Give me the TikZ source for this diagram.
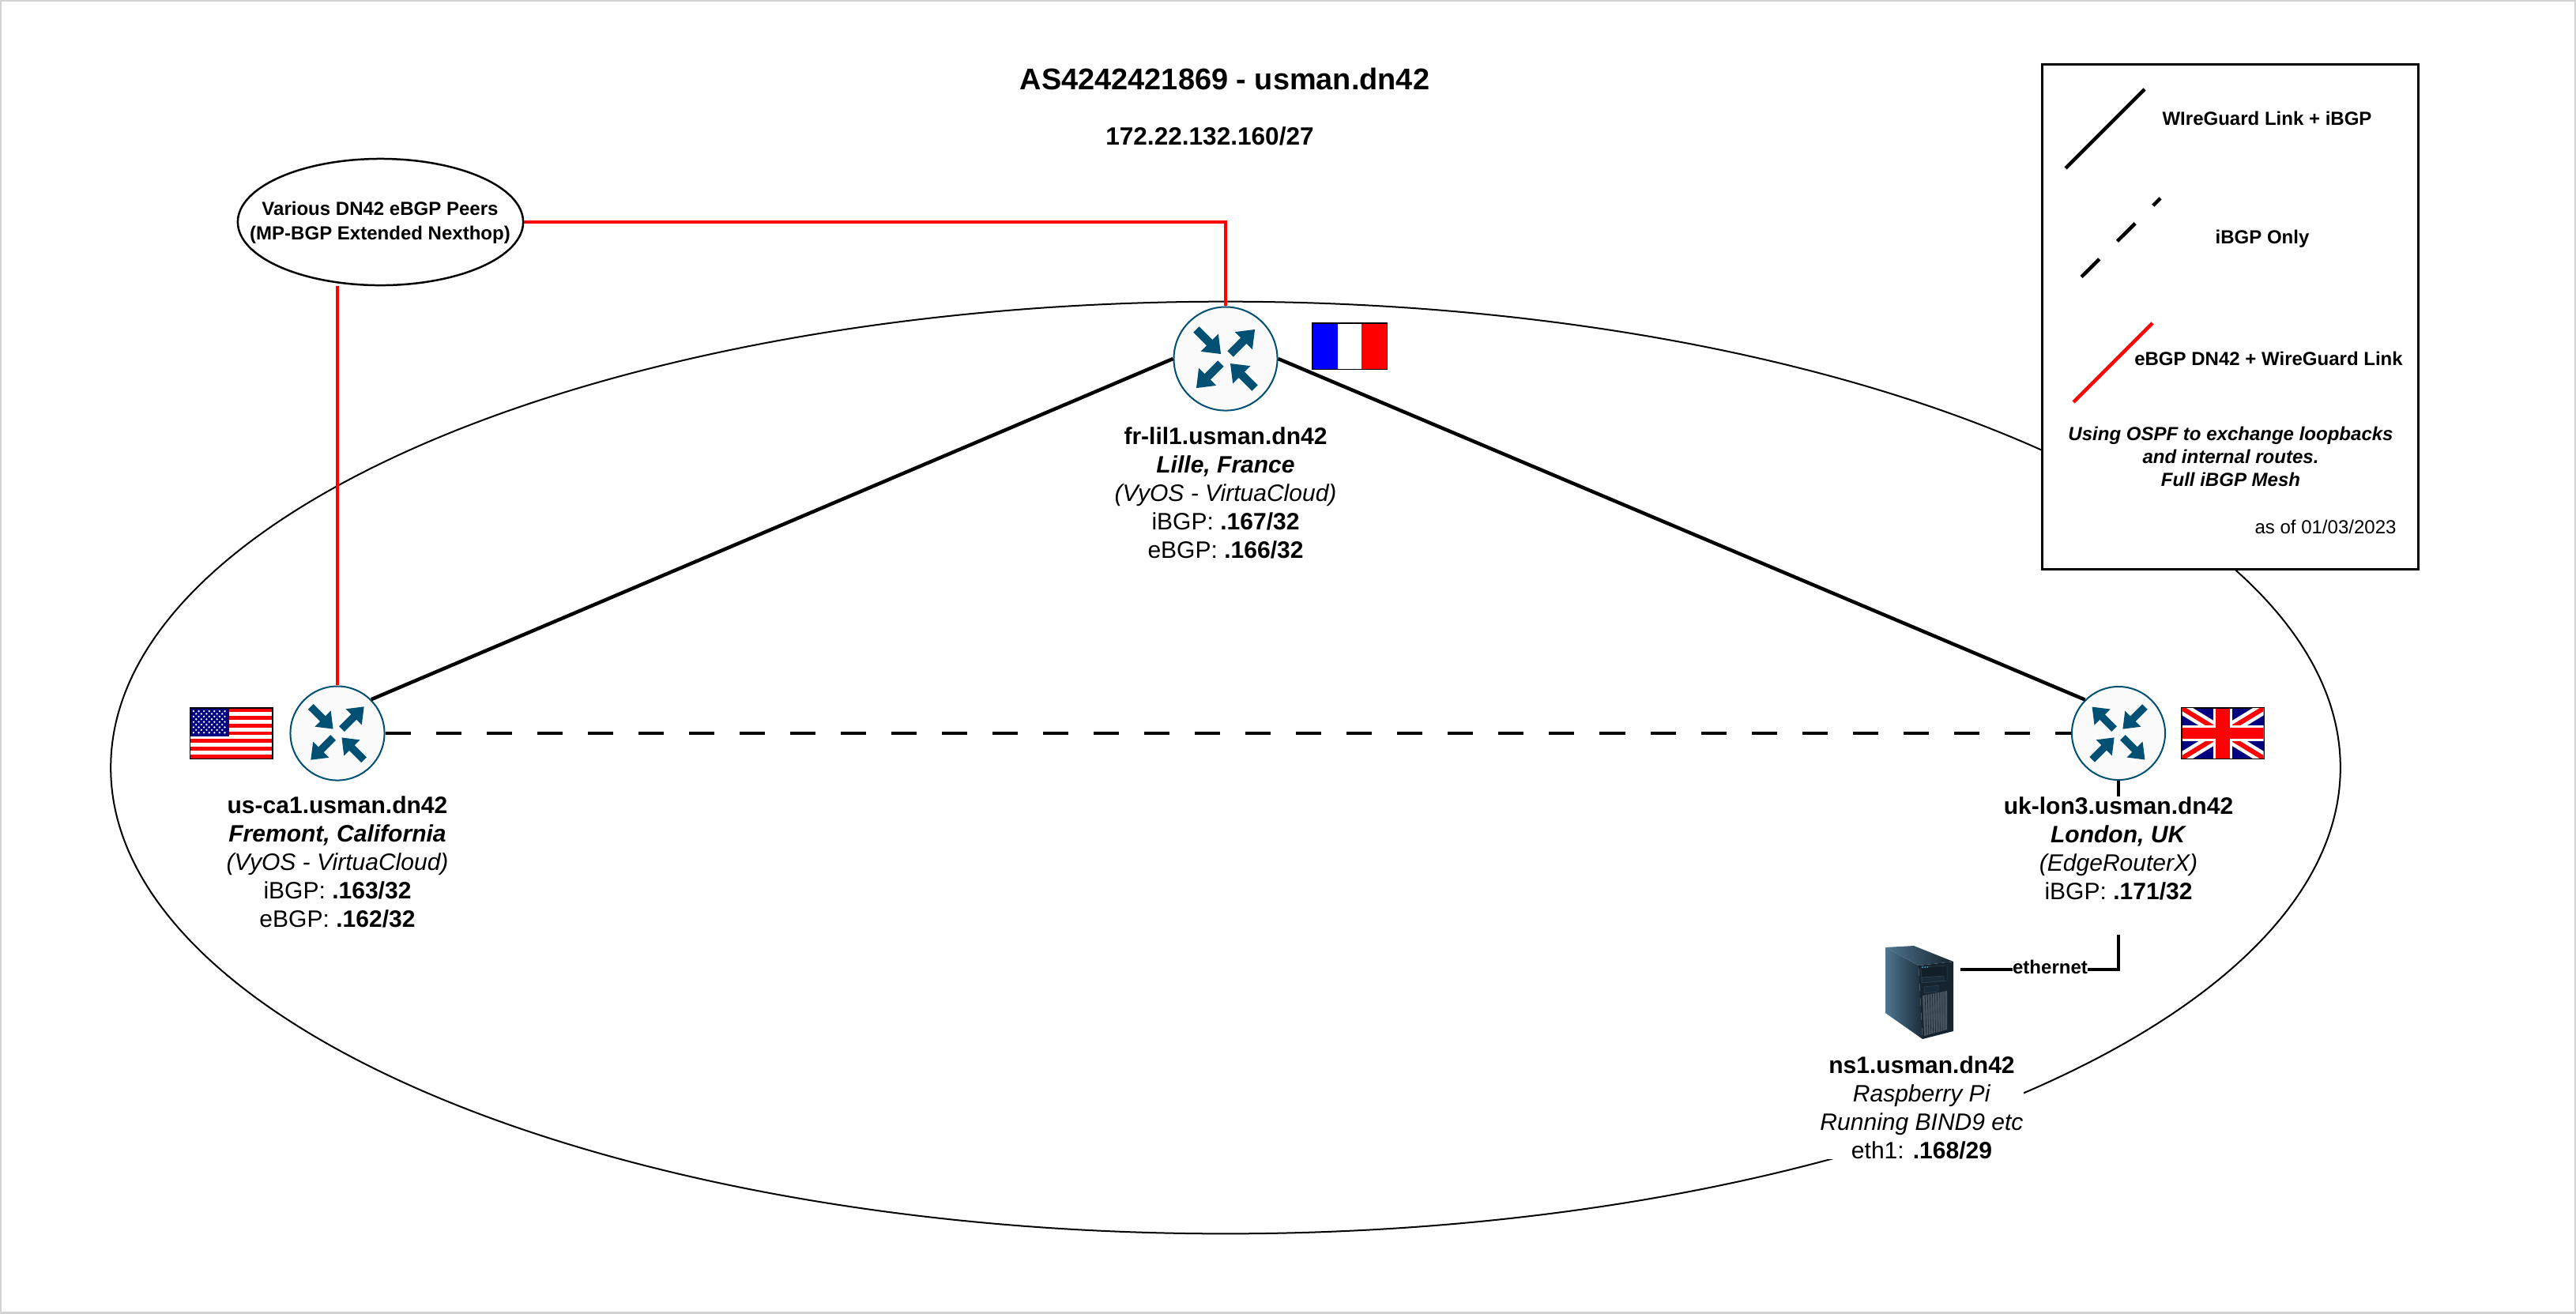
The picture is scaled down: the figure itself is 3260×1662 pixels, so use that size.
\documentclass[tikz,border=0pt]{standalone}
\usepackage{fontspec}
\setmainfont{Liberation Sans}
\usetikzlibrary{positioning, shapes.geometric}
\definecolor{routerblue}{HTML}{005073}
\definecolor{routerface}{HTML}{FAFAFA}
\definecolor{frameline}{HTML}{D3D3D3}
\definecolor{srvlight}{HTML}{4F7690}
\definecolor{srvdark}{HTML}{1A2C3A}
\definecolor{srvfront}{HTML}{16242F}
\tikzset{
  wglink/.style={line width=0.045cm, black},
  ibgplink/.style={line width=0.045cm, black, dash pattern=on 0.32cm off 0.32cm},
  ebgplink/.style={line width=0.045cm, red},
  router/.style={circle, draw=routerblue, line width=0.02cm, fill=routerface, inner sep=0pt},
  hosttext/.style={align=center, fill=white, inner sep=0pt, font=\fontsize{8.54}{10.24}\selectfont},
  smalltext/.style={align=center, inner sep=0pt, font=\fontsize{6.83}{8.3}\selectfont\bfseries},
  flagbox/.style={rectangle, draw=black, line width=0.03cm, inner sep=0pt},
}
\begin{document}
\begin{tikzpicture}[x=0.01cm, y=-0.01cm, on grid]
  \useasboundingbox (0,0) rectangle (3260,1662);
  \draw [frameline, line width=0.04cm] (0,0) rectangle (3260,1662);
  \node [ellipse, draw, line width=0.02cm, inner sep=0pt, minimum width=28.2cm, minimum height=11.79cm] (asring) at (1551,971.5) {};

  \node [inner sep=0pt, font=\fontsize{10.78}{12.9}\selectfont\bfseries] (title) at (1550,100) {AS4242421869 - usman.dn42};
  \node [inner sep=0pt, font=\fontsize{8.98}{10.8}\selectfont\bfseries] (prefix) at (1531,172) {172.22.132.160/27};

  \node [router, minimum size=1.31cm] (fr) at (1551,454) {};
  \node [router, minimum size=1.19cm] (us) at (427,928) {};
  \node [router, minimum size=1.18cm] (uk) at (2681,928) {};
  \node [ellipse, draw, line width=0.025cm, fill=white, inner sep=0pt, minimum width=3.61cm, minimum height=1.6cm, smalltext] (peers) at (481.5,281) {};
  \node [smalltext, font=\fontsize{6.83}{8.8}\selectfont\bfseries] (peerstext) at (481,282) {Various DN42 eBGP Peers\\(MP-BGP Extended Nexthop)};

  \node [hosttext] [below=1.7cm of fr] (frlabel) {\textbf{fr-lil1.usman.dn42}\\\textbf{\textit{Lille, France}}\\\textit{(VyOS - VirtuaCloud)}\\iBGP: \textbf{.167/32}\\eBGP: \textbf{.166/32}};
  \node [hosttext] [below=1.63cm of us] (uslabel) {\textbf{us-ca1.usman.dn42}\\\textbf{\textit{Fremont, California}}\\\textit{(VyOS - VirtuaCloud)}\\iBGP: \textbf{.163/32}\\eBGP: \textbf{.162/32}};
  \node [hosttext] [below=1.46cm of uk] (uklabel) {\textbf{uk-lon3.usman.dn42}\\\textbf{\textit{London, UK}}\\\textit{(EdgeRouterX)}\\iBGP: \textbf{.171/32}};
  \node [hosttext] (ns1label) at (2432,1402) {\textbf{ns1.usman.dn42}\\\textit{Raspberry Pi}\\\textit{Running BIND9 etc}\\eth1: \textbf{.168/29}};
  \node [inner sep=0pt, minimum width=1cm, minimum height=0.2cm] (server) at (2430,1227) {};
  \coordinate (ethstub) at (2681,1183);

  \draw [wglink] (us.45) -- (fr.west);
  \draw [wglink] (fr.east) -- (uk.135);
  \draw [ibgplink] (us.east) -- (uk.west);
  \draw [ebgplink] (peers.east) -| (fr.north);
  \draw [ebgplink] (us.north) -- (us.north |- peers.south);
  \draw [wglink] (uk.south) -- (uklabel.north);
  \draw [wglink] (ethstub) |- node [smalltext, fill=white, pos=0.716, yshift=0.03cm] (ethlabel) {ethernet} (server.east);

  \foreach \rname/\rrad/\mir in {fr/65.5/1, us/59.5/1, uk/59/-1} {
    \begin{scope}[shift={(\rname.center)}, xscale=\mir*\rrad, yscale=\rrad]
      \foreach \ang/\tailr/\tipr in {135/0.8/0.13, 45/0.13/0.8, 225/0.13/0.8, 315/0.8/0.13} {
        \pgfmathsetmacro\headr{\tipr+(\tailr-\tipr)*0.46}
        \fill [routerblue, rotate=\ang] (\tailr,-0.08) -- (\headr,-0.08) -- (\headr,-0.24) -- (\tipr,0) -- (\headr,0.24) -- (\headr,0.08) -- (\tailr,0.08) -- cycle;
      }
    \end{scope}
  }

  \node [flagbox, minimum width=0.93cm, minimum height=0.57cm] [above right=0.16cm and 1.57cm of fr] (flagfr) {};
  \begin{scope}[shift={(flagfr.center)}]
    \fill [blue] (-46.5,-28.5) rectangle (-15,28.5);
    \fill [white] (-15,-28.5) rectangle (15,28.5);
    \fill [red] (15,-28.5) rectangle (46.5,28.5);
  \end{scope}

  \node [flagbox, minimum width=1.03cm, minimum height=0.63cm] [left=1.34cm of us] (flagus) {};
  \begin{scope}[shift={(flagus.center)}]
    \fill [white] (-51.5,-31.5) rectangle (51.5,31.5);
    \foreach \i in {0,2,...,12}
      \fill [red] (-51.5,-31.5+\i*4.846) rectangle (51.5,-31.5+\i*4.846+4.846);
    \fill [blue!50!black] (-51.5,-31.5) rectangle (-3,4);
    \foreach \i in {0,...,4}
      \foreach \j in {0,...,6}
        \fill [white] (-48+\j*6.6,-28+\i*6.8) circle (1.3);
    \foreach \i in {0,...,3}
      \foreach \j in {0,...,5}
        \fill [white] (-44.7+\j*6.6,-24.6+\i*6.8) circle (1.3);
  \end{scope}

  \node [flagbox, minimum width=1.03cm, minimum height=0.63cm] [right=1.32cm of uk] (flaguk) {};
  \begin{scope}[shift={(flaguk.center)}]
    \clip (-51.5,-31.5) rectangle (51.5,31.5);
    \fill [blue!50!black] (-51.5,-31.5) rectangle (51.5,31.5);
    \draw [white, line width=0.15cm] (-51.5,-31.5) -- (51.5,31.5) (-51.5,31.5) -- (51.5,-31.5);
    \draw [red, line width=0.06cm] (-51.5,-31.5) -- (51.5,31.5) (-51.5,31.5) -- (51.5,-31.5);
    \draw [white, line width=0.24cm] (0,-31.5) -- (0,31.5);
    \draw [white, line width=0.2cm] (-51.5,0) -- (51.5,0);
    \draw [red, line width=0.18cm] (0,-31.5) -- (0,31.5);
    \draw [red, line width=0.14cm] (-51.5,0) -- (51.5,0);
  \end{scope}

  \shade [left color=srvlight, right color=srvdark] (2386,1199) -- (2428,1222) -- (2433,1315) -- (2386,1282) -- cycle;
  \shade [left color=srvlight, right color=srvfront] (2386,1199) -- (2422,1197) -- (2472,1217) -- (2428,1222) -- cycle;
  \fill [srvfront] (2428,1222) -- (2472,1217) -- (2472,1305) -- (2433,1315) -- cycle;
  \fill [srvdark!70!black, draw=srvlight!60!black, line width=0.005cm] (2431,1224) -- (2464,1222) -- (2464,1241) -- (2432,1244) -- cycle;
  \fill [srvdark, draw=srvlight!60!black, line width=0.005cm] (2432,1237) -- (2460,1235) -- (2460,1241) -- (2432,1244) -- cycle;
  \fill [srvdark, draw=srvlight!60!black, line width=0.005cm] (2435,1249) -- (2453,1247) -- (2453,1255) -- (2435,1257) -- cycle;
  \fill [srvdark!80!white] (2433,1260) -- (2464,1254) -- (2464,1303) -- (2435,1311) -- cycle;
  \foreach \i in {1,...,9}
    \draw [srvfront, line width=0.006cm] (2433+\i*3.1,1260-\i*0.6) -- (2435+\i*2.9,1311-\i*0.8);
  \foreach \i in {0,1,2}
    \fill [cyan!70!gray] (2433+\i*3.2,1224) circle (1);

  \node [rectangle, draw, line width=0.03cm, fill=white, inner sep=0pt, minimum width=4.76cm, minimum height=6.38cm] (legend) at (2822.5,401) {};
  \coordinate (wga) at (2614,213);
  \coordinate (wgb) at (2714,113);
  \coordinate (iba) at (2634,350.5);
  \coordinate (ibb) at (2734,251);
  \coordinate (eba) at (2624,509);
  \coordinate (ebb) at (2724,409);
  \draw [wglink] (wga) -- (wgb);
  \draw [ibgplink] (iba) -- (ibb);
  \draw [ebgplink] (eba) -- (ebb);
  \node [smalltext] (wgtext) at (2869,150) {WIreGuard Link + iBGP};
  \node [smalltext] (ibtext) at (2863,302) {iBGP Only};
  \node [smalltext] (ebtext) at (2871,454) {eBGP DN42 + WireGuard Link};
  \node [smalltext, font=\fontsize{6.83}{8.2}\selectfont\bfseries\itshape] (ospftext) at (2823,578) {Using OSPF to exchange loopbacks\\and internal routes.\\Full iBGP Mesh};
  \node [smalltext, font=\fontsize{6.83}{8.3}\selectfont] (datetext) at (2943,667) {as of 01/03/2023};
\end{tikzpicture}
\end{document}
